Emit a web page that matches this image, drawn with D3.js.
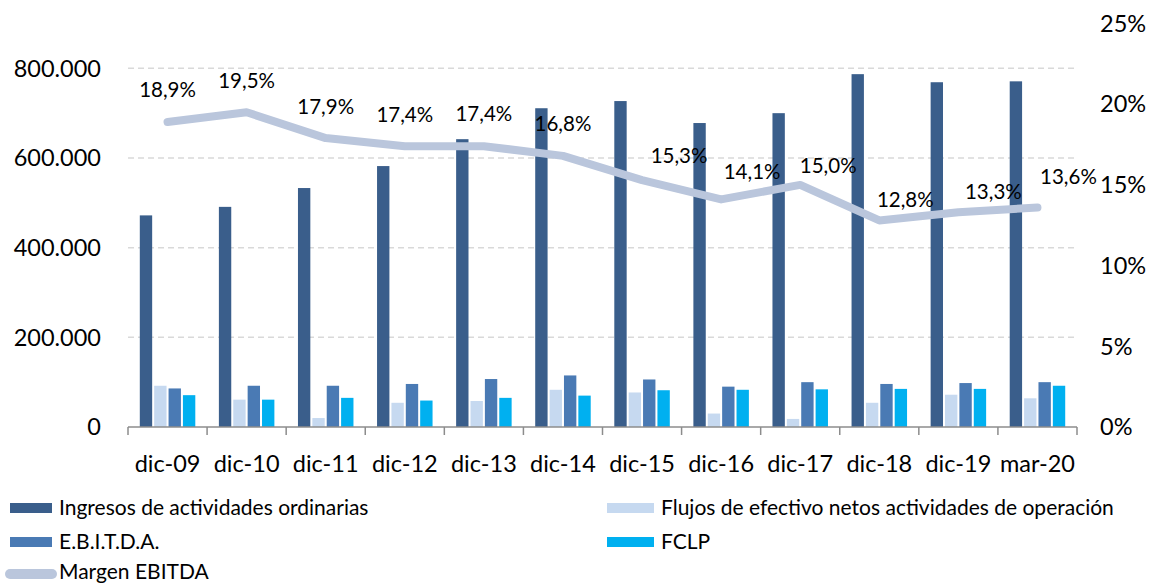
<!DOCTYPE html>
<html>
<head>
<meta charset="utf-8">
<script src="https://cdn.jsdelivr.net/npm/d3@7"></script>
<style>
  html, body { margin: 0; padding: 0; background: #ffffff; }
  svg { display: block; }
  text { font-family: Lato, "Open Sans", sans-serif; fill: #000; }
</style>
</head>
<body>
<svg id="chart" width="1149" height="583"></svg>
<script>
// ---- data ----
const categories = ["dic-09","dic-10","dic-11","dic-12","dic-13","dic-14","dic-15","dic-16","dic-17","dic-18","dic-19","mar-20"];
const ingresos = [472000, 491000, 533000, 582000, 642000, 711000, 727000, 678000, 700000, 787000, 769000, 771000];
const flujos   = [ 92000,  61000,  20000,  54000,  58000,  83000,  77000,  30000,  18000,  54000,  72000,  64000];
const ebitda   = [ 86000,  92000,  92000,  96000, 107000, 115000, 106000,  90000, 100000,  96000,  98000, 100000];
const fclp     = [ 71000,  61000,  65000,  59000,  65000,  70000,  82000,  83000,  84000,  85000,  85000,  92000];
const margen   = [0.189, 0.195, 0.179, 0.174, 0.174, 0.168, 0.153, 0.141, 0.150, 0.128, 0.133, 0.136];
const leftTicks = [0, 200000, 400000, 600000, 800000];
const rightTicks = [0, 0.05, 0.10, 0.15, 0.20, 0.25];
const seriesNames = ["Ingresos de actividades ordinarias", "Flujos de efectivo netos actividades de operación", "E.B.I.T.D.A.", "FCLP"];
const lineName = "Margen EBITDA";

// ---- styling / layout ----
const colors = ["#3a5e8b", "#c6d9f0", "#4a7ab4", "#00b0f0"];
const lineColor = "#bac6dc";
// manual label placement offsets (layout, as in the original)
const labelOffsets = [[0,-32],[0,-31],[0,-31],[0,-31],[0,-32],[0,-32],[37,-24],[31,-28],[28,-19],[26,-21],[35,-21],[31,-31]];

const svg = d3.select("#chart");
const x0 = d3.scaleBand().domain(categories).range([128, 1077]).padding(0);
const x1 = d3.scaleBand().domain(d3.range(4)).range([11.8, 67.3]).paddingInner(0.14).paddingOuter(0);
const yL = d3.scaleLinear().domain([0, 900000]).range([427, 23.5]);
const yR = d3.scaleLinear().domain([0, 0.25]).range([427, 23.5]);

const loc = d3.formatLocale({decimal: ",", thousands: ".", grouping: [3], currency: ["", ""]});
const fmtL = loc.format(",.0f");
const fmtR = loc.format(".0%");
const fmtLbl = loc.format(".1%");

// gridlines
svg.append("g").selectAll("line").data(leftTicks.filter(d => d > 0)).join("line")
  .attr("x1", 128).attr("x2", 1077)
  .attr("y1", d => yL(d)).attr("y2", d => yL(d))
  .attr("stroke", "#d9d9d9").attr("stroke-width", 1.5).attr("stroke-dasharray", "6,4");

// left axis labels
svg.append("g").selectAll("text").data(leftTicks).join("text")
  .attr("x", 101).attr("y", d => yL(d)).attr("dy", "0.35em")
  .attr("text-anchor", "end").style("font-size", "23.5px")
  .text(d => fmtL(d));

// right axis labels
svg.append("g").selectAll("text").data(rightTicks).join("text")
  .attr("x", 1100).attr("y", d => yR(d)).attr("dy", "0.35em")
  .attr("text-anchor", "start").style("font-size", "23.5px")
  .text(d => fmtR(d));

// bars
const series = [ingresos, flujos, ebitda, fclp];
const groups = svg.append("g").selectAll("g").data(categories).join("g")
  .attr("transform", d => `translate(${x0(d)},0)`);
groups.selectAll("rect").data((d, i) => series.map((s, k) => ({k, v: s[i]}))).join("rect")
  .attr("x", d => x1(d.k)).attr("width", x1.bandwidth())
  .attr("y", d => yL(d.v)).attr("height", d => yL(0) - yL(d.v))
  .attr("fill", d => colors[d.k]);

// x axis
const ax = svg.append("g").attr("transform", `translate(0,${yL(0)})`);
ax.append("line").attr("x1", 128).attr("x2", 1077).attr("y1", 0).attr("y2", 0)
  .attr("stroke", "#8c8c8c").attr("stroke-width", 1.5);
const bounds = categories.map(c => x0(c)).concat([x0.range()[1]]);
ax.selectAll("line.tk").data(bounds).join("line").attr("class", "tk")
  .attr("x1", d => d).attr("x2", d => d).attr("y1", 0).attr("y2", 8)
  .attr("stroke", "#8c8c8c").attr("stroke-width", 1.5);
svg.append("g").selectAll("text").data(categories).join("text")
  .attr("x", d => x0(d) + x0.bandwidth() / 2).attr("y", 472)
  .attr("text-anchor", "middle").style("font-size", "23.5px")
  .text(d => d);

// line
const cx = (d, i) => x0(categories[i]) + x0.bandwidth() / 2;
const line = d3.line().x((d, i) => cx(d, i)).y(d => yR(d));
svg.append("path").datum(margen).attr("d", line)
  .attr("fill", "none").attr("stroke", lineColor).attr("stroke-width", 8)
  .attr("stroke-linecap", "round").attr("stroke-linejoin", "round");

// data labels
svg.append("g").selectAll("text").data(margen).join("text")
  .attr("x", (d, i) => cx(d, i) + labelOffsets[i][0])
  .attr("y", (d, i) => yR(d) + labelOffsets[i][1]).attr("dy", "0.35em")
  .attr("text-anchor", "middle").style("font-size", "20.5px")
  .text(d => fmtLbl(d));

// legend
const legendItems = [
  {name: seriesNames[0], color: colors[0], x: 10, w: 42, tx: 59, y: 508},
  {name: seriesNames[1], color: colors[1], x: 607, w: 47, tx: 661, y: 508},
  {name: seriesNames[2], color: colors[2], x: 10, w: 42, tx: 59, y: 542},
  {name: seriesNames[3], color: colors[3], x: 607, w: 47, tx: 661, y: 542}
];
const lg = svg.append("g");
legendItems.forEach(it => {
  lg.append("rect").attr("x", it.x).attr("y", it.y - 5).attr("width", it.w).attr("height", 10).attr("fill", it.color);
  lg.append("text").attr("x", it.tx).attr("y", it.y).attr("dy", "0.35em")
    .style("font-size", "21px").text(it.name);
});
lg.append("line").attr("x1", 10).attr("x2", 52).attr("y1", 574).attr("y2", 574)
  .attr("stroke", lineColor).attr("stroke-width", 10).attr("stroke-linecap", "round");
lg.append("text").attr("x", 59).attr("y", 572).attr("dy", "0.35em").style("font-size", "21px").text(lineName);
</script>
</body>
</html>
